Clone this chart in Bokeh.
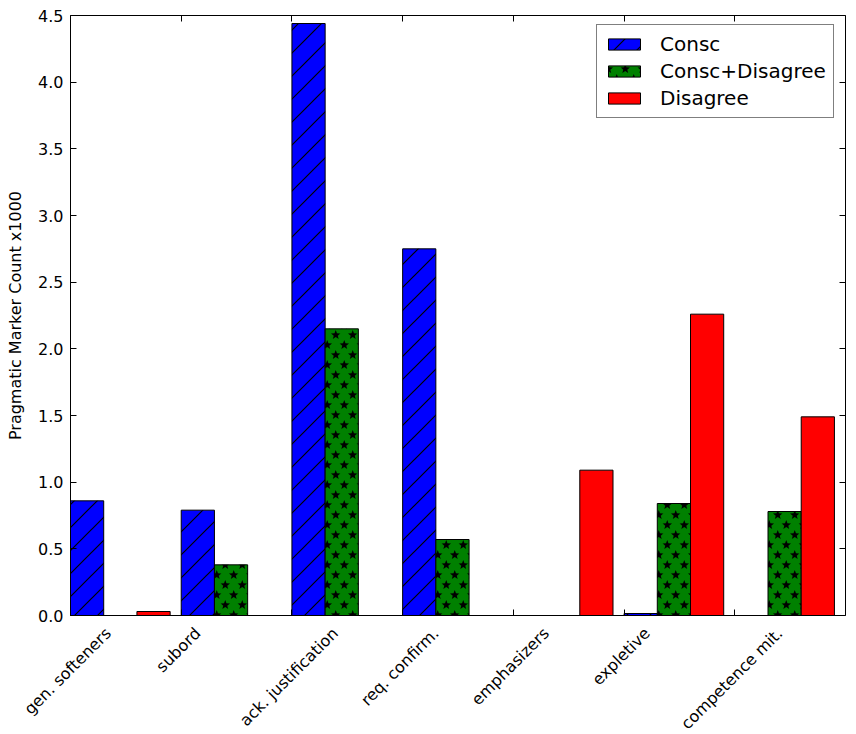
import math
from urllib.parse import quote
from bokeh.plotting import figure
from bokeh.models import (ColumnDataSource, FixedTicker, LinearAxis, Range1d,
                          ImageURLTexture, PrintfTickFormatter)
from bokeh.core.properties import value
from bokeh.embed import file_html
from bokeh.resources import INLINE

# ---- data ----
categories = ["gen. softeners", "subord", "ack. justification", "req. confirm.",
              "emphasizers", "expletive", "competence mit."]
consc = [0.86, 0.79, 4.44, 2.75, 0.0, 0.015, 0.0]
consc_disagree = [0.0, 0.38, 2.15, 0.57, 0.0, 0.84, 0.78]
disagree = [0.03, 0.0, 0.0, 0.0, 1.09, 2.26, 1.49]
series_names = ["Consc", "Consc+Disagree", "Disagree"]
y_ticks = [0.0, 0.5, 1.0, 1.5, 2.0, 2.5, 3.0, 3.5, 4.0, 4.5]
y_label = "Pragmatic Marker Count x1000"

# ---- style ----
FONT = "DejaVu Sans"
FS = 16
BAR_W = 0.3
colors = ["#0000ff", "#008000", "#ff0000"]

def svg_uri(svg):
    return "data:image/svg+xml;charset=utf-8," + quote(svg)

S1 = 23
slash_svg = (f"<svg xmlns='http://www.w3.org/2000/svg' width='{S1}' height='{S1}'>"
             f"<path d='M-3,{S1+3} L{S1+3},-3 M-3,3 L3,-3 M{S1-3},{S1+3} L{S1+3},{S1-3}' "
             "stroke='black' stroke-width='1.2' fill='none'/></svg>")

TW, TH, SR = 17, 20, 5.0
def star_pts(cx, cy, R):
    pts = []
    for k in range(10):
        a = -math.pi / 2 + k * math.pi / 5
        rr = R if k % 2 == 0 else R * 0.42
        pts.append(f"{cx + rr * math.cos(a):.2f},{cy + rr * math.sin(a):.2f}")
    return " ".join(pts)
star_centres = [(TW / 4, TH / 4), (3 * TW / 4, 3 * TH / 4),
                (TW / 4 + TW, TH / 4), (3 * TW / 4 - TW, 3 * TH / 4),
                (TW / 4, TH / 4 + TH), (3 * TW / 4, 3 * TH / 4 - TH)]
star_svg = (f"<svg xmlns='http://www.w3.org/2000/svg' width='{TW}' height='{TH}'>"
            + "".join(f"<polygon points='{star_pts(cx, cy, SR)}' fill='black'/>"
                      for cx, cy in star_centres)
            + "</svg>")
slash_tex = ImageURLTexture(url=svg_uri(slash_svg))
star_tex = ImageURLTexture(url=svg_uri(star_svg))

# frame of the axes box in canvas pixels; the plot frame spans the whole canvas
W_PX, H_PX = 848, 734
FL, FR, FT, FB = 70, 845, 15, 615
X0, X1, Y0, Y1 = 0, 7, 0, 4.5
ppx = (FR - FL) / (X1 - X0)
ppy = (FB - FT) / (Y1 - Y0)

p = figure(width=W_PX, height=H_PX,
           x_range=Range1d(X0 - FL / ppx, X1 + (W_PX - FR) / ppx),
           y_range=Range1d(Y0 - (H_PX - FB) / ppy, Y1 + FT / ppy),
           output_backend="svg", toolbar_location=None,
           min_border=0, min_border_left=0, min_border_right=0,
           min_border_top=0, min_border_bottom=0)
p.background_fill_color = "white"
p.border_fill_color = "white"
p.outline_line_color = None
p.xgrid.visible = False
p.ygrid.visible = False

idx = list(range(len(categories)))
series = [consc, consc_disagree, disagree]
hatch_kw = [
    dict(hatch_pattern=value("slash"), hatch_extra={"slash": slash_tex},
         hatch_color="black", hatch_scale=S1, hatch_weight=1),
    dict(hatch_pattern=value("stars"), hatch_extra={"stars": star_tex},
         hatch_color="black", hatch_scale=TW, hatch_weight=1),
    dict(),
]
for k, (vals, name, col) in enumerate(zip(series, series_names, colors)):
    src = ColumnDataSource(dict(x=[i + BAR_W * (k + 0.5) for i in idx], top=vals))
    p.vbar(x="x", top="top", bottom=0, width=BAR_W, source=src,
           fill_color=col, line_color="black", line_width=1,
           legend_label=name, **hatch_kw[k])

def style_axis(ax):
    ax.axis_line_color = "black"
    ax.axis_line_width = 1
    ax.major_tick_line_color = "black"
    ax.major_tick_in = 6
    ax.major_tick_out = 0
    ax.minor_tick_line_color = None

def ticks_only(ax, ticks):
    ax.major_label_text_font_size = "0px"
    ax.major_label_standoff = 0
    ax.major_label_overrides = {t: "" for t in ticks}

xa = p.xaxis[0]
xa.ticker = FixedTicker(ticks=idx)
xa.fixed_location = Y0
xa.bounds = (X0, X1)
style_axis(xa)
ticks_only(xa, idx)

ya = p.yaxis[0]
ya.ticker = FixedTicker(ticks=y_ticks)
ya.fixed_location = X0
ya.bounds = (Y0, Y1)
ya.formatter = PrintfTickFormatter(format="%.1f")
style_axis(ya)
ya.major_label_text_font = FONT
ya.major_label_text_font_size = f"{FS}px"
ya.major_label_text_color = "black"
ya.major_label_standoff = 7
ya.axis_label = y_label
ya.axis_label_text_font = FONT
ya.axis_label_text_font_size = f"{FS}px"
ya.axis_label_text_font_style = "normal"
ya.axis_label_text_color = "black"
ya.axis_label_standoff = 10

top_ax = LinearAxis(ticker=FixedTicker(ticks=idx), fixed_location=Y1, bounds=(X0, X1))
style_axis(top_ax)
ticks_only(top_ax, idx)
p.add_layout(top_ax, "above")

right_ax = LinearAxis(ticker=FixedTicker(ticks=y_ticks), fixed_location=X1, bounds=(Y0, Y1))
style_axis(right_ax)
ticks_only(right_ax, y_ticks)
p.add_layout(right_ax, "right")

# category labels, rotated 45 deg with the rotated box centred under each tick
W = {'a': .613, 'b': .635, 'c': .550, 'd': .635, 'e': .615, 'f': .352, 'g': .635,
     'h': .634, 'i': .278, 'j': .278, 'k': .579, 'l': .278, 'm': .974, 'n': .634,
     'o': .612, 'p': .635, 'q': .635, 'r': .411, 's': .521, 't': .392, 'u': .634,
     'v': .592, 'w': .818, 'x': .592, 'y': .592, 'z': .525, '.': .318, ' ': .318}
c45 = math.cos(math.pi / 4)
xo = [sum(W.get(ch, .6) for ch in t) * FS * c45 / 2 - 3 for t in categories]
LABEL_PX = 15  # px below the x axis line
lab_src = ColumnDataSource(dict(x=idx, y=[Y0 - LABEL_PX / ppy] * len(idx),
                                text=categories, xo=xo))
p.text(x="x", y="y", text="text", x_offset="xo", source=lab_src, angle=math.pi / 4,
       text_align="right", text_baseline="middle", text_font=value(FONT),
       text_font_size=value(f"{FS}px"), text_color="black")

lg = p.legend[0]
# (left, bottom) of the legend box, in px from the canvas bottom-left
lg.location = (596, H_PX - 118)
lg.margin = 0
lg.padding = 7
lg.spacing = 3
lg.border_line_color = "black"
lg.border_line_width = 1
lg.background_fill_color = "white"
lg.background_fill_alpha = 1
lg.label_text_font = FONT
lg.label_text_font_size = "20px"
lg.label_text_color = "black"
lg.glyph_width = 40
lg.glyph_height = 14
lg.label_standoff = 16

open("out.html", "w").write(file_html(p, INLINE))
